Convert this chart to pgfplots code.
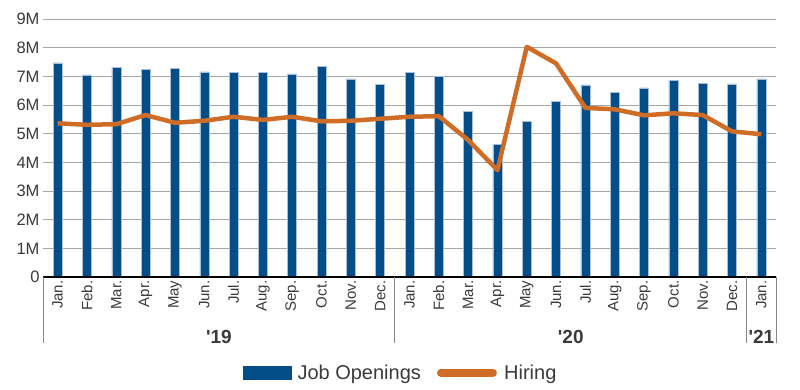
\documentclass[border=0pt]{standalone}
\usepackage{pgfplots}
\pgfplotsset{compat=1.18}
\usepackage{fontspec}
\setmainfont{Liberation Sans}
\definecolor{jobblue}{HTML}{034E89}
\definecolor{jobedge}{HTML}{A9BED8}
\definecolor{hireorange}{HTML}{CF6D27}
\definecolor{txtgray}{HTML}{3A3A3A}
\definecolor{gridgray}{HTML}{A6A6A6}
\begin{document}
\begin{tikzpicture}
\useasboundingbox (-43pt,-112pt) rectangle (757pt,277pt);
\begin{axis}[
  at={(0,0)}, anchor=south west,
  scale only axis, width=733pt, height=258pt,
  xmin=-0.5, xmax=24.5, ymin=0, ymax=9,
  axis line style={draw=none},
  /pgf/number format/assume math mode=true,
  ytick={0,1,2,3,4,5,6,7,8,9},
  yticklabels={0,1M,2M,3M,4M,5M,6M,7M,8M,9M},
  ymajorgrids, grid style={gridgray, line width=0.8pt},
  xtick={0,1,...,24},
  xticklabels={Jan.,Feb.,Mar.,Apr.,May,Jun.,Jul.,Aug.,Sep.,Oct.,Nov.,Dec.,Jan.,Feb.,Mar.,Apr.,May,Jun.,Jul.,Aug.,Sep.,Oct.,Nov.,Dec.,Jan.},
  xticklabel style={rotate=90, anchor=east, font=\fontsize{15}{15}\selectfont, text=txtgray},
  yticklabel style={font=\fontsize{16.5}{16.5}\selectfont, text=txtgray},
  major tick length=0pt,
  clip=false,
  legend style={at={(0.488,0)}, anchor=center, yshift=-95.7pt, draw=none, fill=none,
    legend columns=2, font=\fontsize{20}{20}\selectfont, text=txtgray,
    /tikz/every even column/.append style={column sep=14pt}},
]
\addplot[ybar, bar width=9pt, fill=jobblue, draw=jobedge, line width=0.5pt,
  legend image code/.code={\fill[jobblue] (0pt,-6.5pt) rectangle (48pt,6.5pt); \path (52pt,0pt);}]
coordinates {
(0,7.47) (1,7.05) (2,7.32) (3,7.24) (4,7.27) (5,7.16) (6,7.13) (7,7.15) (8,7.09) (9,7.34) (10,6.91) (11,6.72)
(12,7.15) (13,7.00) (14,5.77) (15,4.63) (16,5.43) (17,6.12) (18,6.70) (19,6.44) (20,6.60) (21,6.86) (22,6.76) (23,6.74)
(24,6.91)
};
\addlegendentry{Job Openings}
\addplot[hireorange, line width=4.5pt, line join=round, mark=none,
  legend image code/.code={\draw[hireorange, line width=8pt, line cap=round] (0pt,0pt) -- (52pt,0pt); \path (59pt,0pt);}]
coordinates {
(0,5.36) (1,5.31) (2,5.33) (3,5.65) (4,5.38) (5,5.45) (6,5.59) (7,5.48) (8,5.59) (9,5.43) (10,5.45) (11,5.52)
(12,5.59) (13,5.61) (14,4.78) (15,3.73) (16,8.03) (17,7.45) (18,5.90) (19,5.85) (20,5.64) (21,5.71) (22,5.65) (23,5.08)
(24,4.98)
};
\addlegendentry{Hiring}
\draw[black, line width=1.5pt] (axis cs:-0.5,0) -- (axis cs:24.5,0);
\draw[gridgray!80!black, line width=0.8pt] (axis cs:-0.5,0) -- ([yshift=-66pt]axis cs:-0.5,0);
\draw[gridgray!80!black, line width=0.8pt] (axis cs:11.5,0) -- ([yshift=-66pt]axis cs:11.5,0);
\draw[gridgray!80!black, line width=0.8pt] (axis cs:23.5,0) -- ([yshift=-66pt]axis cs:23.5,0);
\draw[gridgray!80!black, line width=0.8pt] (axis cs:24.5,0) -- ([yshift=-66pt]axis cs:24.5,0);
\node[font=\bfseries\fontsize{19}{19}\selectfont, text=txtgray] at (axis cs:5.5,0) [yshift=-60pt] {\textquotesingle19};
\node[font=\bfseries\fontsize{19}{19}\selectfont, text=txtgray] at (axis cs:17.5,0) [yshift=-60pt] {\textquotesingle20};
\node[font=\bfseries\fontsize{19}{19}\selectfont, text=txtgray] at (axis cs:24,0) [yshift=-60pt] {\textquotesingle21};
\end{axis}
\end{tikzpicture}
\end{document}
